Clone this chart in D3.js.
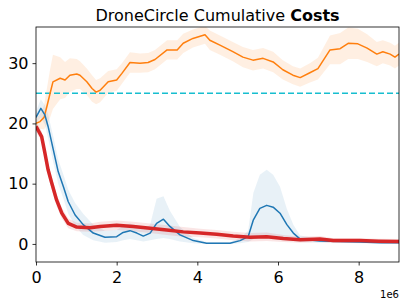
<!DOCTYPE html>
<html><head><meta charset="utf-8">
<script src="https://cdn.jsdelivr.net/npm/d3@7"></script>
<style>body{margin:0;background:#fff}svg{display:block}text{font-family:"DejaVu Sans",sans-serif}</style>
</head><body>
<script>
const title = ["DroneCircle Cumulative ", "Costs"];
const xTicks = [0, 2, 4, 6, 8];
const yTicks = [0, 10, 20, 30];
const costLimit = 25;

// x in units of 1e6 steps
const orangeX = [0,0.1,0.2,0.27,0.35,0.42,0.6,0.72,0.84,1.01,1.09,1.26,1.39,1.49,1.59,1.79,2.0,2.13,2.33,2.58,2.78,2.95,3.25,3.5,3.65,3.89,4.19,4.31,4.56,4.88,5.13,5.38,5.63,5.88,6.12,6.37,6.55,6.79,6.99,7.29,7.54,7.74,7.98,8.21,8.45,8.6,8.78,8.9,9.0];
const orangeY = [20,20.3,21.0,22.8,25.0,26.9,27.5,27.2,28.0,28.2,28.0,26.9,25.8,25.2,25.5,26.9,27.2,28.3,30.1,30.0,30.1,30.6,32.2,32.2,33.3,34.1,34.7,33.8,33.0,31.9,31.0,30.5,30.8,30.2,28.9,28.0,27.6,28.4,29.1,32.2,32.4,33.3,33.2,32.5,31.5,31.9,31.5,31.0,31.5];
const orangeSpread = [0.8,1.2,2.0,3.0,4.0,4.5,3.5,3.0,2.8,2.5,2.3,2.2,2.2,2.0,2.0,1.8,1.8,1.7,1.7,1.6,1.6,1.6,1.6,1.6,1.6,1.5,1.5,1.6,1.6,1.6,1.7,1.7,1.7,1.7,1.6,1.5,1.5,1.6,1.8,2.4,2.6,2.6,2.5,2.3,2.0,1.9,1.9,1.9,1.9];

const blueX = [0,0.12,0.22,0.3,0.43,0.55,0.68,0.8,0.97,1.17,1.42,1.71,2.0,2.16,2.33,2.5,2.66,2.83,2.99,3.16,3.32,3.57,3.9,4.23,4.81,5.06,5.26,5.39,5.55,5.72,5.88,6.05,6.22,6.38,6.55,7.04,7.54,8.03,8.53,9.0];
const blueY = [21.0,22.5,21.4,19.5,15.6,12.0,9.5,7.0,4.8,3.2,1.8,1.1,1.2,1.9,2.2,1.8,1.3,1.8,3.4,4.1,2.9,1.5,0.55,0.1,0.1,0.55,1.2,4.0,5.9,6.4,6.1,5.1,3.2,1.8,0.8,0.5,0.4,0.3,0.2,0.2];
const blueLo = [20.0,21.0,19.8,17.5,13.5,10.0,7.5,5.0,3.0,1.5,0.6,0.2,0.3,0.6,0.8,0.6,0.4,0.6,0.8,1.0,0.8,0.4,0.1,0,0,0.1,0.3,0.8,1.0,1.2,1.2,1.0,0.8,0.5,0.3,0.2,0.2,0.1,0.1,0.1];
const blueHi = [22.0,24.0,23.0,21.5,17.8,14.0,11.5,9.0,6.8,5.0,3.2,2.2,2.3,3.0,3.4,3.0,2.4,3.2,7.5,7.9,5.5,2.8,1.0,0.3,0.3,1.0,2.2,8.5,11.5,12.3,11.5,9.5,5.8,3.2,1.4,0.8,0.7,0.5,0.4,0.4];

const redX = [0,0.14,0.22,0.3,0.39,0.51,0.64,0.8,1.01,1.34,1.59,2.0,2.41,2.83,3.24,3.65,4.07,4.48,4.89,5.31,5.72,6.13,6.55,7.04,7.37,8.03,8.5,9.0];
const redY = [19.5,17.8,15.1,12.3,10.1,7.3,5.1,3.4,2.8,2.7,2.9,3.1,2.9,2.6,2.3,2.0,1.8,1.6,1.3,1.1,1.2,0.9,0.7,0.8,0.55,0.55,0.45,0.4];
const redSpread = [0.8,0.9,1.0,1.0,1.0,1.0,0.9,0.8,0.7,0.7,0.8,0.8,0.8,0.8,0.8,0.8,0.7,0.7,0.7,0.7,0.7,0.6,0.5,0.5,0.4,0.4,0.4,0.4];

const W = 407, H = 308;
const m = {l: 36, r: 8, t: 27, b: 46};
const svg = d3.select("body").append("svg").attr("width", W).attr("height", H);
const x = d3.scaleLinear().domain([0, 9]).range([m.l, W - m.r]);
const y = d3.scaleLinear().domain([-3, 36]).range([H - m.b, m.t]);

svg.append("defs").append("clipPath").attr("id", "c")
  .append("rect").attr("x", m.l).attr("y", m.t).attr("width", W - m.l - m.r).attr("height", H - m.t - m.b);
const g = svg.append("g").attr("clip-path", "url(#c)");

const area = d3.area().x(d => x(d[0])).y0(d => y(d[1])).y1(d => y(d[2]));
const line = d3.line().x(d => x(d[0])).y(d => y(d[1]));

function band(xs, lo, hi, color, op) {
  g.append("path").datum(xs.map((v, i) => [v, lo[i], hi[i]]))
    .attr("d", area).attr("fill", color).attr("fill-opacity", op);
}
function ln(xs, ys, color, w) {
  g.append("path").datum(xs.map((v, i) => [v, ys[i]]))
    .attr("d", line).attr("fill", "none").attr("stroke", color).attr("stroke-width", w)
    .attr("stroke-linejoin", "round");
}

band(orangeX, orangeY.map((v, i) => v - orangeSpread[i]), orangeY.map((v, i) => v + orangeSpread[i]), "#ff7f0e", 0.12);
band(blueX, blueLo, blueHi, "#1f77b4", 0.1);
band(redX, redY.map((v, i) => v - redSpread[i]), redY.map((v, i) => v + redSpread[i]), "#d62728", 0.12);

g.append("line").attr("x1", x(0)).attr("x2", x(9)).attr("y1", y(costLimit)).attr("y2", y(costLimit))
  .attr("stroke", "#17becf").attr("stroke-width", 1.5).attr("stroke-dasharray", "6,3");

ln(orangeX, orangeY, "#ff7f0e", 1.5);
ln(blueX, blueY, "#1f77b4", 1.5);
ln(redX, redY, "#d62728", 3.5);

const xa = svg.append("g").attr("transform", `translate(0,${H - m.b})`)
  .call(d3.axisBottom(x).tickValues(xTicks).tickFormat(d3.format("d")).tickSize(3.5).tickPadding(6));
const ya = svg.append("g").attr("transform", `translate(${m.l},0)`)
  .call(d3.axisLeft(y).tickValues(yTicks).tickFormat(d3.format("d")).tickSize(3.5).tickPadding(4));
[xa, ya].forEach(a => {
  a.select(".domain").remove();
  a.selectAll("text").attr("font-size", 16).attr("fill", "#000").style("font-family", "DejaVu Sans");
  a.selectAll("line").attr("stroke", "#000").attr("stroke-width", 0.8);
});
svg.append("rect").attr("x", m.l).attr("y", m.t).attr("width", W - m.l - m.r).attr("height", H - m.t - m.b)
  .attr("fill", "none").attr("stroke", "#000").attr("stroke-width", 0.8);

svg.append("text").attr("x", W - m.r).attr("y", 298).attr("text-anchor", "end")
  .attr("font-size", 10).text("1e6");

const t = svg.append("text").attr("x", (m.l + W - m.r) / 2).attr("y", 21).attr("text-anchor", "middle").attr("font-size", 16);
t.append("tspan").text(title[0]);
t.append("tspan").attr("font-weight", "bold").text(title[1]);
</script>
</body></html>
